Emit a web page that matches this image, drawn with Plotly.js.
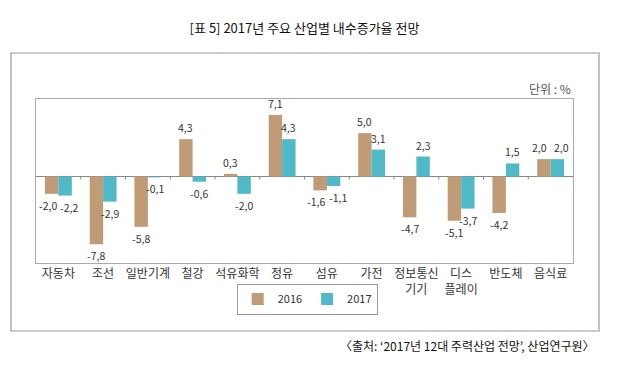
<!DOCTYPE html>
<html>
<head>
<meta charset="utf-8">
<script src="https://cdn.plot.ly/plotly-3.0.1.min.js"></script>
<style>html,body{margin:0;padding:0;background:#fff;}#chart{width:629px;height:370px;}</style>
</head>
<body>
<div id="chart"></div>
<script>
const categories = ['자동차','조선','일반기계','철강','석유화학','정유','섬유','가전','정보통신<br>기기','디스<br>플레이','반도체','음식료'];
const values2016 = [-2.0, -7.8, -5.8, 4.3, 0.3, 7.1, -1.6, 5.0, -4.7, -5.1, -4.2, 2.0];
const values2017 = [-2.2, -2.9, -0.1, -0.6, -2.0, 4.3, -1.1, 3.1, 2.3, -3.7, 1.5, 2.0];
const seriesNames = ['2016', '2017'];

const FONT = '"Noto Sans CJK KR", "Noto Sans", sans-serif';
const colors = ['#bf9c76', '#4fb9c7'];
const series = [values2016, values2017];

const traces = series.map((vals, k) => ({
  type: 'bar',
  name: seriesNames[k],
  x: categories,
  y: vals,
  marker: {color: colors[k]},
  hoverinfo: 'skip'
}));

// value labels as annotations (so close pairs can be nudged apart)
const fmt = v => v.toFixed(1).replace('.', ',');
const labelAnns = [];
categories.forEach((c, i) => {
  const a = values2016[i], b = values2017[i];
  const close = (a * b > 0) && Math.abs(a - b) < 1;
  series.forEach((vals, k) => {
    const v = vals[i];
    const dir = k === 0 ? -1 : 1;
    labelAnns.push({
      xref: 'x', yref: 'y', x: c, y: v, text: fmt(v), showarrow: false,
      xshift: dir * 6.75 + (close ? dir * 4 : 0),
      yshift: v >= 0 ? 2 : -2,
      yanchor: v >= 0 ? 'bottom' : 'top', xanchor: 'center',
      font: {size: 10.5, color: '#333', family: FONT}
    });
  });
});

const shapes = [];
// outer frame
shapes.push({type: 'rect', xref: 'paper', yref: 'paper', x0: -0.0466, x1: 1.0484, y0: -0.4146, y1: 1.2805,
  line: {color: '#999', width: 1.2}});
// category boundary ticks on zero line
for (let i = 1; i < categories.length; i++) {
  shapes.push({type: 'line', xref: 'x', yref: 'y', x0: i - 0.5, x1: i - 0.5, y0: 0, y1: -0.35,
    line: {color: '#888', width: 1}});
}

const layout = {
  width: 629, height: 370,
  margin: {l: 36, r: 56, t: 99, b: 107},
  paper_bgcolor: '#fff', plot_bgcolor: '#fff',
  font: {family: FONT, color: '#333'},
  separators: ',.',
  title: {text: '[표 5] 2017년 주요 산업별 내수증가율 전망', font: {size: 13, color: '#111', family: FONT},
    xref: 'paper', x: 0.5, xanchor: 'center', yref: 'container', y: 0.924, yanchor: 'middle'},
  barmode: 'group', bargap: 0.4, bargroupgap: 0,
  showlegend: true,
  legend: {orientation: 'h', xref: 'paper', yref: 'paper', x: 0.505, xanchor: 'center', y: -0.22, yanchor: 'middle',
    bordercolor: '#999', borderwidth: 1, font: {size: 11, color: '#333', family: FONT}, bgcolor: '#fff',
    itemwidth: 30, tracegroupgap: 0},
  xaxis: {showline: true, mirror: true, linecolor: '#aaa', linewidth: 1, ticks: '', showgrid: false,
    tickfont: {size: 12, color: '#333', family: FONT}, fixedrange: true},
  yaxis: {range: [-9.97, 8.93], showline: true, mirror: true, linecolor: '#aaa', linewidth: 1,
    showticklabels: false, ticks: '', showgrid: false, zeroline: true, zerolinecolor: '#888', zerolinewidth: 1.5,
    fixedrange: true},
  shapes: shapes,
  annotations: labelAnns.concat([
    {text: '단위 : %', xref: 'paper', yref: 'paper', x: 1, y: 1.061, xanchor: 'right', yanchor: 'middle',
      showarrow: false, font: {size: 12, color: '#555', family: FONT}},
    {text: '〈출처: \u20182017년 12대 주력산업 전망\u2019, 산업연구원〉', xref: 'paper', yref: 'paper', x: 1.0447, y: -0.5,
      xanchor: 'right', yanchor: 'middle', showarrow: false, font: {size: 12, color: '#111', family: FONT}}
  ])
};

Plotly.newPlot('chart', traces, layout, {displayModeBar: false, staticPlot: true});
</script>
</body>
</html>
